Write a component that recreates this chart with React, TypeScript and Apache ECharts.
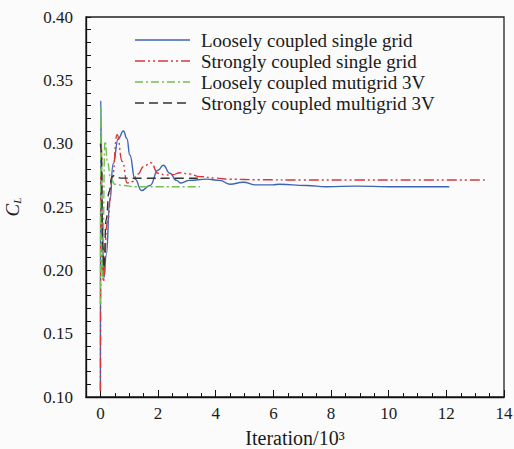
import React, { useEffect, useRef } from "react";
import * as echarts from "echarts";

// Iteration (x 10^3) and lift coefficient values
const blueX = [0, 0.01, 0.05, 0.12, 0.2, 0.33, 0.44, 0.62, 0.8, 0.92, 1.02, 1.2, 1.43, 1.72, 2.0, 2.18, 2.41, 2.64, 2.78, 3.1, 3.68, 4.14, 4.49, 4.95, 5.41, 5.98, 6.2, 7.15, 7.84, 8.88, 10.0, 11.0, 12.1];
const blueY = [0.105, 0.334, 0.25, 0.194, 0.212, 0.255, 0.284, 0.304, 0.31, 0.304, 0.291, 0.272, 0.263, 0.267, 0.279, 0.283, 0.2766, 0.271, 0.269, 0.271, 0.272, 0.271, 0.268, 0.2695, 0.2675, 0.2675, 0.268, 0.267, 0.266, 0.2665, 0.266, 0.266, 0.266];

const redX = [0, 0.03, 0.07, 0.1, 0.24, 0.41, 0.58, 0.76, 0.93, 1.1, 1.3, 1.5, 1.75, 2.0, 2.24, 2.5, 2.76, 3.1, 3.45, 4.0, 4.49, 5.5, 7.0, 9.0, 11.0, 13.4];
const redY = [0.105, 0.3, 0.2, 0.191, 0.238, 0.273, 0.307, 0.286, 0.269, 0.27, 0.276, 0.282, 0.285, 0.2766, 0.2753, 0.2755, 0.277, 0.276, 0.274, 0.2728, 0.2719, 0.2715, 0.2713, 0.2713, 0.2713, 0.2713];

const greenX = [0, 0.02, 0.07, 0.16, 0.25, 0.35, 0.5, 0.8, 1.2, 2.0, 3.0, 3.45];
const greenY = [0.173, 0.33, 0.195, 0.302, 0.285, 0.273, 0.268, 0.267, 0.266, 0.266, 0.266, 0.266];

const blackX = [0, 0.03, 0.08, 0.12, 0.2, 0.3, 0.4, 0.5, 0.7, 1.5, 2.5, 3.5];
const blackY = [0.3, 0.295, 0.22, 0.202, 0.24, 0.262, 0.274, 0.275, 0.2728, 0.2727, 0.2727, 0.2727];

const seriesNames = [
  "Loosely coupled single grid",
  "Strongly coupled single grid",
  "Loosely coupled mutigrid 3V",
  "Strongly coupled multigrid 3V",
];
const seriesColors = ["#3d64b4", "#d8383c", "#72c052", "#333333"];
const seriesDashes: (number[] | "solid")[] = ["solid", [10, 3, 2, 3, 2, 3], [8, 3, 2, 3], [9, 5]];

const xTickLabels = ["0", "2", "4", "6", "8", "10", "12", "14"];
const yTickLabels = ["0.10", "0.15", "0.20", "0.25", "0.30", "0.35", "0.40"];

const FONT = "Liberation Serif";

function pairs(xs: number[], ys: number[]) {
  return xs.map((x, i) => [x, ys[i]]);
}

export default function App() {
  const ref = useRef<HTMLDivElement>(null);
  useEffect(() => {
    if (!ref.current) return;
    const chart = echarts.init(ref.current, undefined, { renderer: "svg" });
    const data = [pairs(blueX, blueY), pairs(redX, redY), pairs(greenX, greenY), pairs(blackX, blackY)];
    const drawOrder = [3, 2, 1, 0];
    const legendTop = 40;
    const legendStep = 21;
    const graphic: any[] = [];
    seriesNames.forEach((name, i) => {
      const y = legendTop + i * legendStep;
      graphic.push({
        type: "line",
        shape: { x1: 135, y1: y, x2: 190, y2: y },
        style: {
          stroke: seriesColors[i],
          lineWidth: 1.4,
          lineDash: seriesDashes[i] === "solid" ? null : (seriesDashes[i] as number[]),
        },
        z: 10,
      });
      graphic.push({
        type: "text",
        x: 201,
        y: y,
        style: { text: name, fill: "#1a1a1a", fontFamily: FONT, fontSize: 19, verticalAlign: "middle" },
        z: 10,
      });
    });

    chart.setOption({
      animation: false,
      backgroundColor: "#fbfbfb",
      textStyle: { fontFamily: FONT },
      grid: { left: 86, right: 10, top: 17, bottom: 52, show: true, borderColor: "#222", borderWidth: 1.3, containLabel: false, outerBoundsMode: "none" },
      xAxis: [
        {
          type: "value",
          min: -0.5,
          max: 14,
          interval: 0.5,
          position: "bottom",
          axisLine: { onZero: false, lineStyle: { color: "#111", width: 1.3 } },
          axisTick: { inside: true, length: 4, lineStyle: { color: "#111" } },
          axisLabel: { show: false },
          splitLine: { show: false },
          name: "Iteration/10³",
          nameLocation: "middle",
          nameGap: 31,
          nameTextStyle: { fontFamily: FONT, fontSize: 20, color: "#1a1a1a" },
        },
        {
          type: "value",
          inverse: true,
          min: -14,
          max: 0.5,
          interval: 2,
          position: "bottom",
          axisLine: { show: false, onZero: false },
          axisTick: { inside: true, length: 7, lineStyle: { color: "#111" } },
          axisLabel: {
            margin: 8,
            fontFamily: FONT,
            fontSize: 17,
            color: "#1a1a1a",
            formatter: (v: number) => {
              const s = String(Math.round(-v));
              return Math.abs(v - Math.round(v)) < 1e-6 && xTickLabels.includes(s) ? s : "";
            },
          },
          splitLine: { show: false },
        },
      ],
      yAxis: {
        type: "value",
        min: 0.1,
        max: 0.4,
        interval: 0.05,
        axisLine: { onZero: false, lineStyle: { color: "#111", width: 1.3 } },
        axisTick: { inside: true, length: 5, lineStyle: { color: "#111" } },
        minorTick: { show: true, splitNumber: 5, length: 5, lineStyle: { color: "#111" } },
        axisLabel: {
          margin: 13,
          fontFamily: FONT,
          fontSize: 17,
          color: "#1a1a1a",
          formatter: (v: number) => yTickLabels.find((t) => Math.abs(parseFloat(t) - v) < 1e-6) || "",
        },
        splitLine: { show: false },
        name: "{c|C}{s|L}",
        nameLocation: "middle",
        nameGap: 64,
        nameRotate: 90,
        nameTextStyle: {
          rich: {
            c: { fontFamily: FONT, fontStyle: "italic", fontSize: 19, color: "#1a1a1a" },
            s: { fontFamily: FONT, fontStyle: "italic", fontSize: 11, color: "#1a1a1a", verticalAlign: "bottom", padding: [8, 0, 0, 0] },
          },
        },
      },
      graphic,
      series: drawOrder.map((i) => ({
        type: "line",
        name: seriesNames[i],
        xAxisIndex: 0,
        data: data[i],
        showSymbol: false,
        symbol: "none",
        smooth: 0.5,
        smoothMonotone: "x",
        lineStyle: { color: seriesColors[i], width: 1.4, type: seriesDashes[i] },
        z: 2 + (3 - drawOrder.indexOf(i)),
      })),
    });
    return () => chart.dispose();
  }, []);
  return <div ref={ref} style={{ position: "fixed", left: 0, top: 0, width: 514, height: 449 }} />;
}
